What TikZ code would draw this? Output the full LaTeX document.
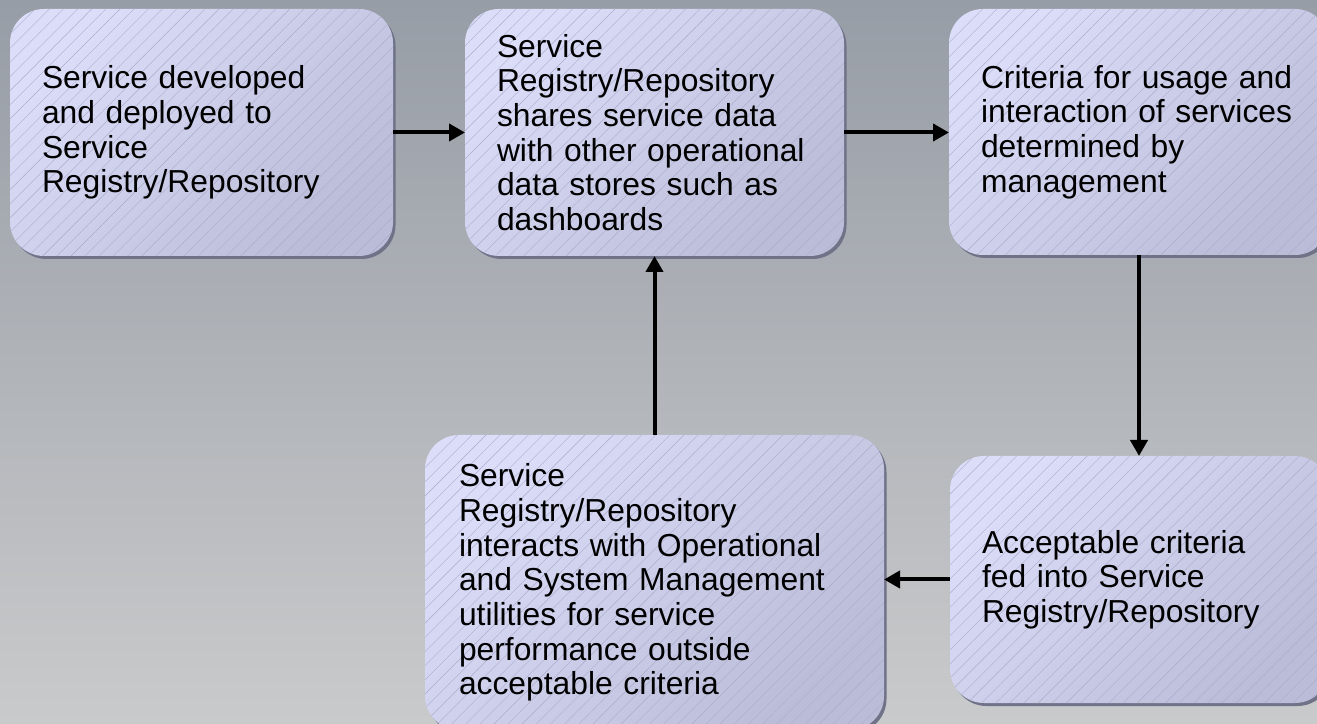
\documentclass[tikz,border=0pt]{standalone}
\usepackage{fontspec}
\setmainfont{Liberation Sans}
\usetikzlibrary{shadows,patterns.meta,arrows.meta}

\definecolor{bgtop}{RGB}{151,157,166}
\definecolor{bgbot}{RGB}{201,202,203}
\definecolor{boxlight}{RGB}{219,221,249}
\definecolor{boxdark}{RGB}{186,188,216}
\definecolor{hatch}{RGB}{170,172,202}
\definecolor{shadowc}{RGB}{112,114,136}

\begin{document}
\begin{tikzpicture}[x=1pt,y=1pt,
  stagebox/.style={rectangle, rounded corners=34pt, inner sep=0pt, outer sep=0pt,
    top color=boxlight, bottom color=boxdark, shading angle=45,
    postaction={pattern={Lines[angle=45,distance=10pt,line width=0.4pt]}, pattern color=hatch},
    drop shadow={shadow xshift=2.5pt, shadow yshift=-3pt, fill=shadowc, opacity=1},
    font=\fontsize{31.8}{34.7}\selectfont, align=left, text=black},
  flow/.style={line width=4pt, draw=black, -{Triangle[length=16pt,width=17pt]}}]

% page and background
\useasboundingbox (0,0) rectangle (1317,723);
\clip (0,0) rectangle (1317,723);
\shade[top color=bgtop, bottom color=bgbot] (0,0) rectangle (1317,723);

% process stages
\node[stagebox, minimum width=383, minimum height=247, text width=319] (dev) at (201.5,590.5)
  {Service developed\\and deployed to\\Service\\Registry/Repository};
\node[stagebox, minimum width=379, minimum height=247, text width=315] (share) at (654.5,590.5)
  {Service\\Registry/Repository\\shares service data\\with other operational\\data stores such as\\dashboards};
\node[stagebox, minimum width=380, minimum height=246, text width=316] (crit) at (1139,591)
  {Criteria for usage and\\interaction of services\\determined by\\management};
\node[stagebox, minimum width=379, minimum height=247, text width=315] (feed) at (1139.5,143.5)
  {Acceptable criteria\\fed into Service\\Registry/Repository};
\node[stagebox, minimum width=459, minimum height=295, text width=391] (ops) at (654.5,140.5)
  {Service\\Registry/Repository\\interacts with Operational\\and System Management\\utilities for service\\performance outside\\acceptable criteria};

% flow between stages
\draw[flow] (dev.east) -- (share.west);
\draw[flow] (share.east) -- (share.east -| crit.west);
\draw[flow] (crit.south) -- (crit.south |- feed.north);
\draw[flow] (feed.west) -- (feed.west -| ops.east);
\draw[flow] (ops.north) -- (share.south);
\end{tikzpicture}
\end{document}
